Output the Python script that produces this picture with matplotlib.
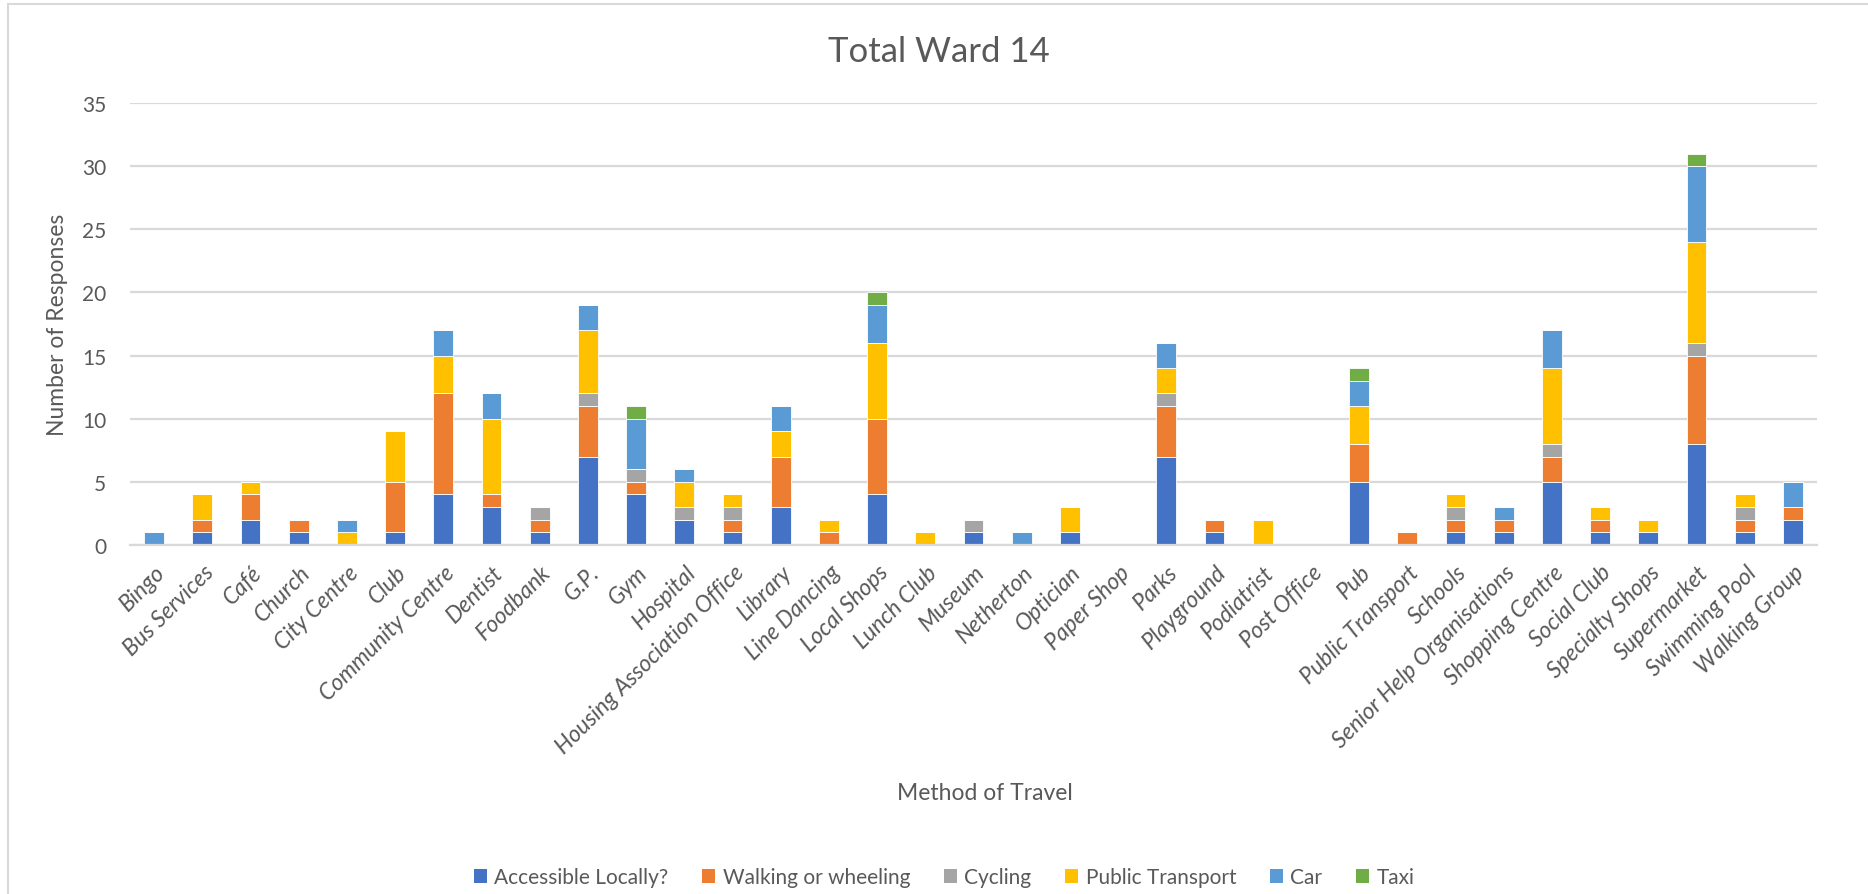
import numpy as np
import matplotlib
matplotlib.use('Agg')
import matplotlib.pyplot as plt
import matplotlib.transforms as mtransforms
from matplotlib.patches import Patch, Rectangle

plt.rcParams['font.family'] = ['Lato', 'DejaVu Sans']

places = ['Bingo', 'Bus Services', 'Café', 'Church', 'City Centre', 'Club',
          'Community Centre', 'Dentist', 'Foodbank', 'G.P.', 'Gym', 'Hospital',
          'Housing Association Office', 'Library', 'Line Dancing', 'Local Shops',
          'Lunch Club', 'Museum', 'Netherton', 'Optician', 'Paper Shop', 'Parks',
          'Playground', 'Podiatrist', 'Post Office', 'Pub', 'Public Transport',
          'Schools', 'Senior Help Organisations', 'Shopping Centre', 'Social Club',
          'Specialty Shops', 'Supermarket', 'Swimming Pool', 'Walking Group']

accessible = [0, 1, 2, 1, 0, 1, 4, 3, 1, 7, 4, 2, 1, 3, 0, 4, 0, 1, 0, 1, 0, 7,
              1, 0, 0, 5, 0, 1, 1, 5, 1, 1, 8, 1, 2]
walking = [0, 1, 2, 1, 0, 4, 8, 1, 1, 4, 1, 0, 1, 4, 1, 6, 0, 0, 0, 0, 0, 4,
           1, 0, 0, 3, 1, 1, 1, 2, 1, 0, 7, 1, 1]
cycling = [0, 0, 0, 0, 0, 0, 0, 0, 1, 1, 1, 1, 1, 0, 0, 0, 0, 1, 0, 0, 0, 1,
           0, 0, 0, 0, 0, 1, 0, 1, 0, 0, 1, 1, 0]
public_transport = [0, 2, 1, 0, 1, 4, 3, 6, 0, 5, 0, 2, 1, 2, 1, 6, 1, 0, 0, 2, 0, 2,
                    0, 2, 0, 3, 0, 1, 0, 6, 1, 1, 8, 1, 0]
car = [1, 0, 0, 0, 1, 0, 2, 2, 0, 2, 4, 1, 0, 2, 0, 3, 0, 0, 1, 0, 0, 2,
       0, 0, 0, 2, 0, 0, 1, 3, 0, 0, 6, 0, 2]
taxi = [0, 0, 0, 0, 0, 0, 0, 0, 0, 0, 1, 0, 0, 0, 0, 1, 0, 0, 0, 0, 0, 0,
        0, 0, 0, 1, 0, 0, 0, 0, 0, 0, 1, 0, 0]

series = [('Accessible Locally?', accessible, '#4472C4'),
          ('Walking or wheeling', walking, '#ED7D31'),
          ('Cycling', cycling, '#A5A5A5'),
          ('Public Transport', public_transport, '#FFC000'),
          ('Car', car, '#5B9BD5'),
          ('Taxi', taxi, '#70AD47')]

text_col = '#595959'
grid_col = '#D9D9D9'
W, H = 1868, 895

fig = plt.figure(figsize=(W / 100, H / 100), dpi=100)
ax = fig.add_axes([130 / W, 1 - 546 / H, (1817 - 130) / W, (546 - 104) / H])

x = np.arange(len(places))
bottom = np.zeros(len(places))
for name, vals, col in series:
    vals = np.array(vals)
    ax.bar(x, vals, width=0.41, bottom=bottom, color=col, edgecolor='white',
           linewidth=0.6, zorder=3)
    bottom += vals

ax.set_xlim(-0.5, len(places) - 0.5)
ax.set_ylim(0, 35)
ax.set_yticks(range(0, 36, 5))
ax.yaxis.grid(True, color=grid_col, linewidth=1.6, zorder=0)
for s in ['top', 'right', 'left']:
    ax.spines[s].set_visible(False)
ax.spines['bottom'].set_color(grid_col)
ax.spines['bottom'].set_linewidth(1.6)
ax.spines['bottom'].set_zorder(4)

ax.tick_params(axis='y', length=0, pad=17, labelsize=15, labelcolor=text_col)
ax.tick_params(axis='x', length=0, pad=17, labelsize=16.5, labelcolor=text_col)
ax.set_xticks(x)
ax.set_xticklabels(places, rotation=45, ha='right', va='center',
                   rotation_mode='anchor', style='italic')
# nudge the rotated labels a little to the right, like Excel does
shift = mtransforms.ScaledTranslation(8 / 100, 0, fig.dpi_scale_trans)
for lab in ax.get_xticklabels():
    lab.set_transform(lab.get_transform() + shift)

fig.text(939 / W, 1 - 62 / H, 'Total Ward 14', ha='center', va='baseline',
         fontsize=25, color=text_col)
fig.text(58 / W, 1 - 325 / H, 'Number of Responses', rotation=90,
         ha='center', va='center', fontsize=16.5, color=text_col)
fig.text(985 / W, 1 - 800 / H, 'Method of Travel', ha='center', va='baseline',
         fontsize=16.5, color=text_col)

handles = [Patch(facecolor=col, label=name) for name, vals, col in series]
fig.legend(handles=handles, loc='center', bbox_to_anchor=(944 / W, 1 - 878 / H),
           ncol=6, frameon=False, fontsize=15, labelcolor=text_col,
           handlelength=0.65, handleheight=0.65, handletextpad=0.35,
           columnspacing=1.6, borderpad=0.1)

# chart frame (cropped at right and bottom)
fig.patches.append(Rectangle((8 / W, -0.1), 1.2, 1 - 5 / H + 0.1,
                             transform=fig.transFigure, fill=False,
                             edgecolor=grid_col, linewidth=1.5))

fig.savefig('out.png', dpi=100)
